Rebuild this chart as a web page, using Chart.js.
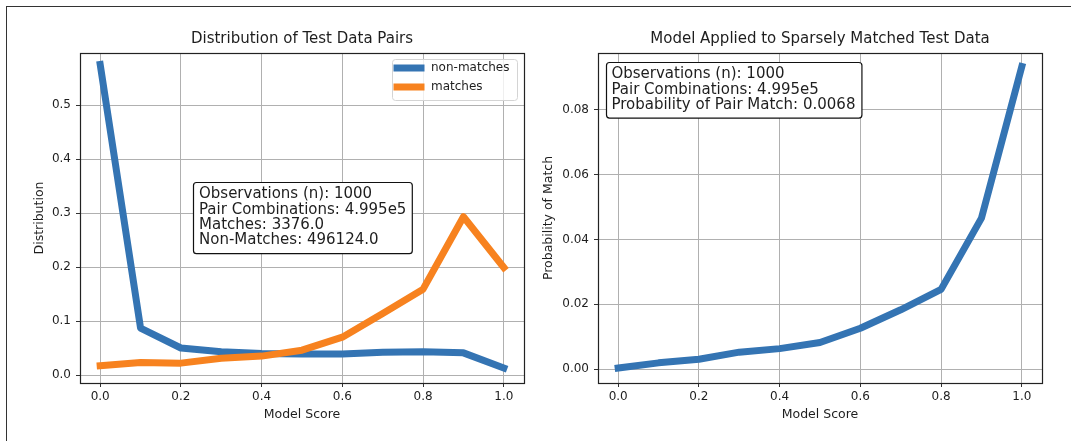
<!DOCTYPE html>
<html>
<head>
<meta charset="utf-8">
<script src="https://cdn.jsdelivr.net/npm/chart.js@4.4.1/dist/chart.umd.min.js"></script>
<style>
  html, body { margin: 0; padding: 0; background: #fff; }
  #wrap { position: relative; width: 1071px; height: 441px; overflow: hidden; }
  #frame { position: absolute; left: 6px; top: 6px; width: 1200px; height: 600px;
           border-left: 1.5px solid #333; border-top: 1.5px solid #333; }
  canvas { position: absolute; top: 0; }
  #c1 { left: 0; }
  #c2 { left: 540px; }
</style>
</head>
<body>
<div id="wrap">
  <div id="frame"></div>
  <canvas id="c1" width="540" height="441"></canvas>
  <canvas id="c2" width="531" height="441"></canvas>
</div>
<script>
// model score bins (x axis)
const scores = [0.0, 0.1, 0.2, 0.3, 0.4, 0.5, 0.6, 0.7, 0.8, 0.9, 1.0];

// left chart: distribution of test data pairs
const nonMatches = [0.575, 0.087, 0.050, 0.043, 0.040, 0.039, 0.039, 0.042, 0.043, 0.041, 0.013];
const matches    = [0.017, 0.023, 0.022, 0.031, 0.035, 0.046, 0.070, 0.114, 0.159, 0.293, 0.199];

// right chart: probability of match
const probMatch = [0.0003, 0.0019, 0.0030, 0.0052, 0.0063, 0.0082, 0.0126, 0.0183, 0.0246, 0.0466, 0.0934];

// tick labels
const xTicks = [0.0, 0.2, 0.4, 0.6, 0.8, 1.0];
const yTicksLeft = [0.0, 0.1, 0.2, 0.3, 0.4, 0.5];
const yTicksRight = [0.00, 0.02, 0.04, 0.06, 0.08];

const leftInfo = [
  'Observations (n): 1000',
  'Pair Combinations: 4.995e5',
  'Matches: 3376.0',
  'Non-Matches: 496124.0'
];
const rightInfo = [
  'Observations (n): 1000',
  'Pair Combinations: 4.995e5',
  'Probability of Pair Match: 0.0068'
];

const BLUE = '#3474b3';
const ORANGE = '#f7821f';
const FONT = '"DejaVu Sans", sans-serif';
const TXT = '#1e1e1e';

const toPoints = (ys) => scores.map((x, i) => ({ x, y: ys[i] }));

function roundRect(ctx, x, y, w, h, r) {
  ctx.beginPath();
  ctx.moveTo(x + r, y);
  ctx.lineTo(x + w - r, y);
  ctx.quadraticCurveTo(x + w, y, x + w, y + r);
  ctx.lineTo(x + w, y + h - r);
  ctx.quadraticCurveTo(x + w, y + h, x + w - r, y + h);
  ctx.lineTo(x + r, y + h);
  ctx.quadraticCurveTo(x, y + h, x, y + h - r);
  ctx.lineTo(x, y + r);
  ctx.quadraticCurveTo(x, y, x + r, y);
  ctx.closePath();
}

// axes frame, legend and info box drawn on top of the lines
const overlay = {
  id: 'overlay',
  afterDatasetsDraw(chart, args, opts) {
    const { ctx, chartArea: a } = chart;
    ctx.save();
    ctx.strokeStyle = '#222';
    ctx.lineWidth = 1.2;
    ctx.strokeRect(Math.round(a.left) + 0.5, Math.round(a.top) + 0.5,
                   Math.round(a.right - a.left), Math.round(a.bottom - a.top));

    if (opts.legend) {
      const w = 125, h = 41;
      const x = a.right - 7 - w, y = a.top + 6;
      roundRect(ctx, x + 0.5, y + 0.5, w, h, 3);
      ctx.fillStyle = 'rgba(255,255,255,0.8)';
      ctx.fill();
      ctx.strokeStyle = '#d4d4d4';
      ctx.lineWidth = 1;
      ctx.stroke();
      ctx.font = '12px ' + FONT;
      ctx.textBaseline = 'middle';
      ctx.textAlign = 'left';
      chart.data.datasets.forEach((ds, i) => {
        const ly = y + 9 + i * 19;
        ctx.fillStyle = ds.borderColor;
        ctx.fillRect(x + 1.5, ly - 3.5, 31, 7);
        ctx.fillStyle = TXT;
        ctx.fillText(ds.label, x + 39, ly);
      });
    }

    const info = opts.info;
    if (info) {
      ctx.font = '15px ' + FONT;
      const tw = Math.max(...info.lines.map(t => ctx.measureText(t).width));
      const pad = 5.7;
      const bx = a.left + info.dx, by = a.top + info.dy;
      const bw = tw + pad * 2, bh = info.lines.length * info.lh + 10;
      roundRect(ctx, Math.round(bx) + 0.5, Math.round(by) + 0.5, bw, bh, 3);
      ctx.fillStyle = '#fff';
      ctx.fill();
      ctx.strokeStyle = '#111';
      ctx.lineWidth = 1.2;
      ctx.stroke();
      ctx.fillStyle = TXT;
      ctx.textBaseline = 'middle';
      ctx.textAlign = 'left';
      info.lines.forEach((t, i) => {
        ctx.fillText(t, bx + pad, by + 12.8 + i * info.lh);
      });
    }
    ctx.restore();
  }
};

function makeChart(id, cfg) {
  const tickFont = { family: FONT, size: 12 };
  const titleFont = { family: FONT, size: 12.5 };
  return new Chart(document.getElementById(id), {
    type: 'line',
    data: { datasets: cfg.datasets },
    plugins: [overlay],
    options: {
      responsive: false,
      animation: false,
      devicePixelRatio: 1,
      layout: { padding: { left: 0, right: cfg.padRight, top: 0, bottom: 0 } },
      plugins: {
        legend: { display: false },
        tooltip: { enabled: false },
        title: {
          display: true,
          text: cfg.title,
          fullSize: false,
          color: TXT,
          font: { family: FONT, size: 15, weight: 'normal', lineHeight: 1.2 },
          padding: { top: 30.5, bottom: 4.5 }
        },
        overlay: { legend: cfg.legend, info: cfg.info }
      },
      scales: {
        x: {
          type: 'linear',
          min: -0.05,
          max: 1.05,
          afterBuildTicks: (s) => { s.ticks = xTicks.map(v => ({ value: v })); },
          afterFit: (s) => { s.height = 58; },
          ticks: {
            color: TXT, font: tickFont, padding: 3, maxRotation: 0,
            callback: (v) => v.toFixed(1)
          },
          grid: { color: '#b0b0b0', lineWidth: 1, tickLength: 4, tickColor: '#333', drawTicks: true },
          border: { display: false },
          title: {
            display: true, text: 'Model Score', color: TXT, font: titleFont,
            padding: { top: 0, bottom: 19 }
          }
        },
        y: {
          type: 'linear',
          min: cfg.yMin,
          max: cfg.yMax,
          afterBuildTicks: (s) => { s.ticks = cfg.yTicks.map(v => ({ value: v })); },
          afterFit: (s) => { s.width = cfg.yWidth; },
          ticks: {
            color: TXT, font: tickFont, padding: 5,
            callback: (v) => v.toFixed(cfg.yDigits)
          },
          grid: { color: '#b0b0b0', lineWidth: 1, tickLength: 4, tickColor: '#333', drawTicks: true },
          border: { display: false },
          title: {
            display: true, text: cfg.yTitle, color: TXT, font: titleFont,
            padding: { top: cfg.yTitlePad, bottom: 0 }
          }
        }
      }
    }
  });
}

const lineStyle = {
  borderWidth: 7,
  pointRadius: 0,
  tension: 0,
  fill: false,
  borderCapStyle: 'square',
  borderJoinStyle: 'round'
};

makeChart('c1', {
  title: 'Distribution of Test Data Pairs',
  datasets: [
    { label: 'non-matches', data: toPoints(nonMatches), borderColor: BLUE, backgroundColor: BLUE, order: 1, ...lineStyle },
    { label: 'matches', data: toPoints(matches), borderColor: ORANGE, backgroundColor: ORANGE, order: 0, ...lineStyle }
  ],
  padRight: 16,
  yWidth: 80,
  yMin: -0.0148,
  yMax: 0.5963,
  yTicks: yTicksLeft,
  yDigits: 1,
  yTitle: 'Distribution',
  yTitlePad: 32.5,
  legend: true,
  info: { lines: leftInfo, dx: 113.3, dy: 128.7, lh: 15.3 }
});

makeChart('c2', {
  title: 'Model Applied to Sparsely Matched Test Data',
  datasets: [
    { label: 'probability', data: toPoints(probMatch), borderColor: BLUE, backgroundColor: BLUE, ...lineStyle }
  ],
  padRight: 29,
  yWidth: 58,
  yMin: -0.00432,
  yMax: 0.0976,
  yTicks: yTicksRight,
  yDigits: 2,
  yTitle: 'Probability of Match',
  yTitlePad: 1.5,
  legend: false,
  info: { lines: rightInfo, dx: 7.7, dy: 8.7, lh: 15.2 }
});
</script>
</body>
</html>
